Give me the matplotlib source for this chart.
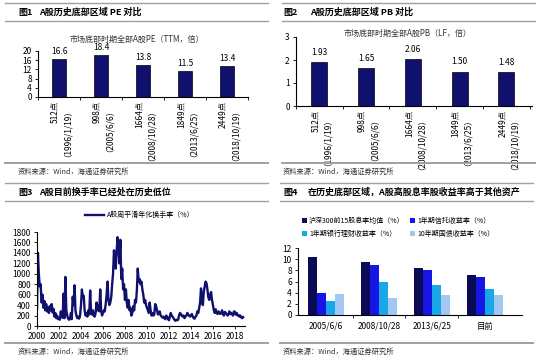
import matplotlib
matplotlib.use("Agg")
import matplotlib.pyplot as plt
import matplotlib.dates as mdates
from matplotlib.lines import Line2D
import numpy as np
import pandas as pd

plt.rcParams['font.family'] = ['Noto Sans CJK SC', 'DejaVu Sans']
plt.rcParams['axes.unicode_minus'] = False

# ---- data ----
bottom_labels = ["512点\n（1996/1/19）", "998点\n（2005/6/6）", "1664点\n（2008/10/28）",
                 "1849点\n（2013/6/25）", "2449点\n（2018/10/19）"]
pe_values = [16.6, 18.4, 13.8, 11.5, 13.4]
pb_values = [1.93, 1.65, 2.06, 1.50, 1.48]

turnover_start = "2000-01"
turnover = [
    320, 1400, 1000, 760, 800, 450, 600, 350, 480, 300, 420, 280,   # 2000
    350, 250, 380, 300, 420, 260, 330, 180, 250, 150, 200, 130,     # 2001
    150, 120, 280, 200, 160, 620, 150, 940, 300, 200, 140, 120,     # 2002
    150, 250, 130, 560, 400, 780, 300, 200, 150, 180, 140, 200,     # 2003
    400, 700, 550, 580, 300, 200, 250, 180, 300, 220, 680, 250,     # 2004
    220, 300, 200, 180, 250, 450, 300, 400, 280, 700, 300, 200,     # 2005
    250, 300, 280, 420, 600, 850, 500, 400, 450, 550, 800, 1000,    # 2006
    1450, 1200, 1100, 1450, 1700, 1500, 1200, 1650, 900, 1100, 700, 800,  # 2007
    500, 700, 450, 350, 500, 300, 350, 200, 250, 380, 300, 500,     # 2008
    450, 700, 1100, 850, 900, 800, 850, 700, 600, 450, 500, 400,    # 2009
    350, 300, 250, 450, 300, 200, 250, 200, 220, 420, 380, 300,     # 2010
    220, 250, 280, 200, 180, 160, 180, 150, 130, 200, 180, 130,     # 2011
    110, 180, 250, 200, 180, 150, 120, 100, 120, 110, 120, 200,     # 2012
    250, 230, 200, 180, 200, 150, 180, 200, 250, 220, 200, 180,     # 2013
    200, 230, 180, 150, 140, 180, 200, 280, 250, 350, 450, 720,     # 2014
    450, 400, 650, 750, 850, 820, 700, 550, 500, 600, 650, 500,     # 2015
    400, 300, 250, 320, 250, 230, 280, 250, 230, 260, 300, 220,     # 2016
    200, 270, 250, 230, 200, 220, 280, 230, 250, 220, 200, 280,     # 2017
    270, 220, 250, 200, 210, 180, 200, 160, 150, 170,               # 2018
]

dy_groups = ["2005/6/6", "2008/10/28", "2013/6/25", "目前"]
dy_series = ["沪深300前15股息率均值（%）", "1年期信托收益率（%）",
             "1年期银行理财收益率（%）", "10年期国债收益率（%）"]
hs300_dy = [10.4, 9.5, 8.4, 7.2]
trust_yield = [4.0, 9.0, 8.1, 6.8]
wmp_yield = [2.5, 5.9, 5.3, 4.7]
bond10_yield = [3.8, 3.1, 3.6, 3.6]

W, H = 550, 360
navy = "#10106e"
grey = "#a0a0a0"
txt = "#333333"

fig = plt.figure(figsize=(5.5, 3.6), dpi=100)


def box(l, t, r, b):
    return [l / W, 1 - b / H, (r - l) / W, (b - t) / H]


def hline(x0, x1, y, lw=1.0):
    fig.add_artist(Line2D([x0 / W, x1 / W], [1 - y / H, 1 - y / H],
                          color=grey, lw=lw, transform=fig.transFigure))


def ftext(x, y, s, **kw):
    fig.text(x / W, 1 - y / H, s, **kw)


def style_ax(ax):
    ax.spines['top'].set_visible(False)
    ax.spines['right'].set_visible(False)
    for sp in ['left', 'bottom']:
        ax.spines[sp].set_linewidth(0.8)
    ax.tick_params(axis='both', labelsize=6, length=2.5, width=0.6, pad=2, colors='black')
    ax.patch.set_alpha(0)


# frames, titles, sources
# (line x0, line x1, y offset, title num x, title text x)
panels = [(5, 268, 0, 18, 39), (282, 535, 0, 283, 310), (5, 268, 180, 18, 39), (280, 533, 180, 283, 308)]
nums = ["图1", "图2", "图3", "图4"]
titles = ["A股历史底部区域 PE 对比", "A股历史底部区域 PB 对比",
          "A股目前换手率已经处在历史低位", "在历史底部区域，A股高股息率股收益率高于其他资产"]
for (x0, x1, oy, nx, tx), n, t in zip(panels, nums, titles):
    hline(x0, x1, oy + 3)
    hline(x0, x1, oy + 21)
    hline(x0, x1, oy + 163, lw=1.4)
    ftext(nx, oy + 12, n, fontsize=6.5, fontweight='bold', va='center', color='black')
    ftext(tx, oy + 12, t, fontsize=6.5, fontweight='bold', va='center', color='black')
    ftext(nx, oy + 172, "资料来源：Wind，海通证券研究所", fontsize=5.2, va='center', color=txt)

# ---- 图1 PE ----
ax1 = fig.add_axes(box(38, 51, 248, 97))
x = np.arange(len(pe_values))
ax1.bar(x, pe_values, width=0.35, color=navy, edgecolor='black', linewidth=0.5)
for xi, v in zip(x, pe_values):
    ax1.text(xi, v + 1.3, f"{v:.1f}", ha='center', va='bottom', fontsize=6)
ax1.set_ylim(0, 20)
ax1.set_yticks([0, 4, 8, 12, 16, 20])
ax1.set_xlim(-0.45, 4.45)
ax1.set_xticks(x)
ax1.set_xticklabels(bottom_labels, rotation=90, fontsize=5, va='top', ha='center',
                    multialignment='right', linespacing=0.85)
ax1.set_xticks(np.arange(-0.5, 5, 1), minor=True)
style_ax(ax1)
ax1.tick_params(axis='x', which='major', length=0, pad=3)
ax1.tick_params(axis='x', which='minor', length=2.5, width=0.6)
ftext(137, 39, "市场底部时期全部A股PE（TTM，倍）", fontsize=5.8, ha='center', va='center', color=txt)

# ---- 图2 PB ----
ax2 = fig.add_axes(box(296, 37, 532, 106))
ax2.bar(x, pb_values, width=0.34, color=navy, edgecolor='black', linewidth=0.5)
for xi, v in zip(x, pb_values):
    ax2.text(xi, v + 0.22, f"{v:.2f}", ha='center', va='bottom', fontsize=6)
ax2.set_ylim(0, 3)
ax2.set_yticks([0, 1, 2, 3])
ax2.set_xlim(-0.47, 4.55)
ax2.set_xticks(x)
ax2.set_xticklabels(bottom_labels, rotation=90, fontsize=5, va='top', ha='center',
                    multialignment='right', linespacing=0.85)
ax2.set_xticks(np.arange(-0.5, 5, 1), minor=True)
style_ax(ax2)
ax2.tick_params(axis='x', which='major', length=0, pad=3)
ax2.tick_params(axis='x', which='minor', length=2.5, width=0.6)
ftext(408, 33, "市场底部时期全部A股PB（LF，倍）", fontsize=5.8, ha='center', va='center', color=txt)

# ---- 图3 turnover ----
ax3 = fig.add_axes(box(37, 232, 245, 326))
dates = pd.date_range(turnover_start, periods=len(turnover), freq="MS")
ax3.plot(dates, turnover, color=navy, lw=1.7, label="A股周平滑年化换手率（%）")
ax3.set_ylim(0, 1800)
ax3.set_yticks(np.arange(0, 1801, 200))
ax3.set_xlim(pd.Timestamp("2000-01-01"), pd.Timestamp("2018-12-01"))
ax3.set_xticks([pd.Timestamp(f"{y}-01-01") for y in range(2000, 2019, 2)])
ax3.xaxis.set_major_formatter(mdates.DateFormatter("%Y"))
style_ax(ax3)
ax3.legend(loc='center left', bbox_to_anchor=((85 - 37) / 208, (326 - 215) / 94),
           frameon=False, fontsize=5, handlelength=2.8, handletextpad=0.3,
           borderaxespad=0, borderpad=0)

# ---- 图4 dividend yield ----
ax4 = fig.add_axes(box(298, 248, 522, 315))
g = np.arange(len(dy_groups))
bw = 0.17
cols = ["#0a0a55", "#1515e6", "#18a8e8", "#a2c8f2"]
bars = []
for i, (vals, name) in enumerate(zip([hs300_dy, trust_yield, wmp_yield, bond10_yield], dy_series)):
    bars.append(ax4.bar(g + (i - 1.5) * bw, vals, width=bw, color=cols[i], label=name,
                        edgecolor='none'))
ax4.set_ylim(0, 12)
ax4.set_yticks(np.arange(0, 13, 2))
ax4.set_xlim(-0.53, 3.7)
ax4.set_xticks(g)
ax4.set_xticklabels(dy_groups, fontsize=6)
ax4.set_xticks(np.arange(0.5, 3.0, 1), minor=True)
style_ax(ax4)
ax4.tick_params(axis='x', which='major', length=0, pad=5)
ax4.tick_params(axis='x', which='minor', length=2.5, width=0.6)
order = [0, 2, 1, 3]
ax4.legend([bars[i] for i in order], [dy_series[i] for i in order],
           ncol=2, loc='lower left', bbox_to_anchor=((302 - 298) / 224, (315 - 238) / 67),
           frameon=False, fontsize=5, handlelength=0.7, handleheight=0.7,
           handletextpad=0.3, columnspacing=0.8, labelspacing=0.7,
           borderaxespad=0, borderpad=0)

fig.savefig("out.png", dpi=100)
